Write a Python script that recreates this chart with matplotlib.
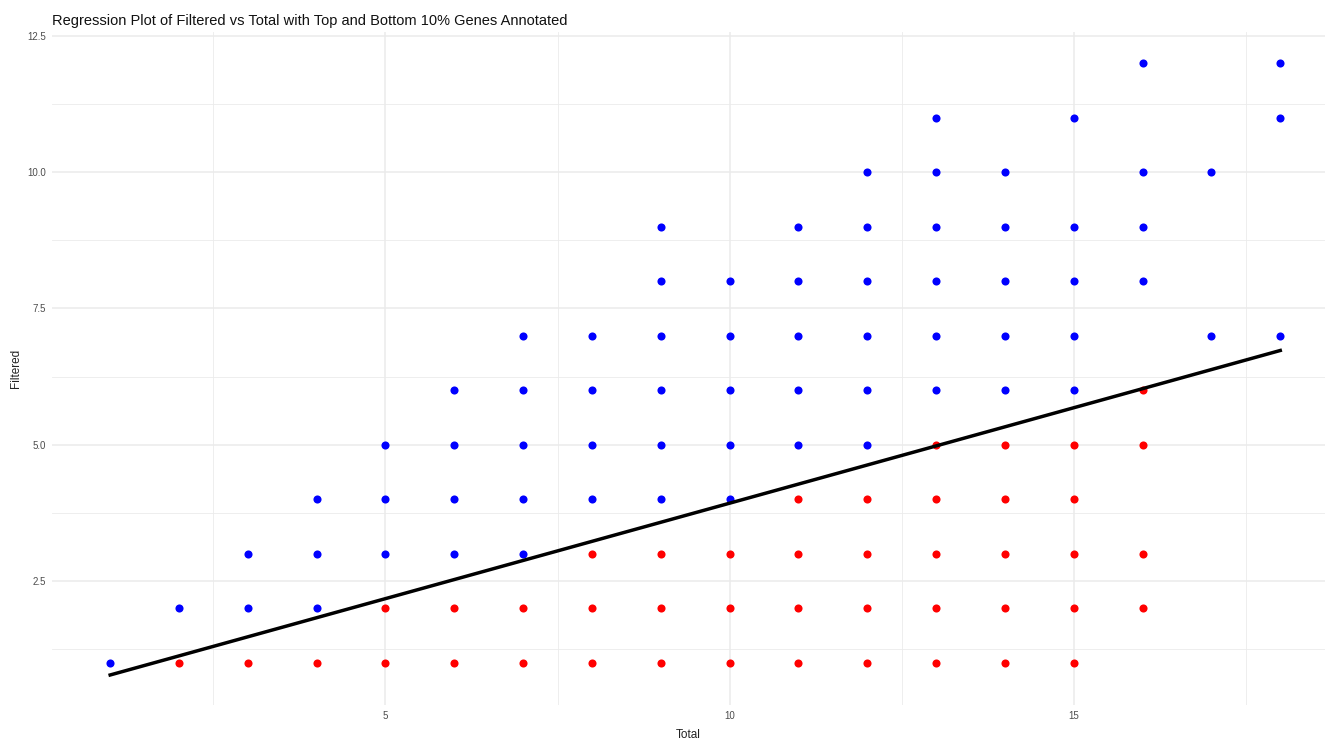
import matplotlib
matplotlib.use("Agg")
import matplotlib.pyplot as plt
import numpy as np

plt.rcParams['font.family'] = ['Liberation Sans', 'DejaVu Sans']

# gene counts: total vs filtered, split into the flagged groups
red_total = [2, 3, 4, 5, 5, 6, 6, 7, 7, 8, 8, 8,
             9, 9, 9, 10, 10, 10, 11, 11, 11, 11, 12, 12, 12, 12,
             13, 13, 13, 13, 13, 14, 14, 14, 14, 14, 15, 15, 15, 15, 15,
             16, 16, 16, 16]
red_filtered = [1, 1, 1, 1, 2, 1, 2, 1, 2, 1, 2, 3,
                1, 2, 3, 1, 2, 3, 1, 2, 3, 4, 1, 2, 3, 4,
                1, 2, 3, 4, 5, 1, 2, 3, 4, 5, 1, 2, 3, 4, 5,
                2, 3, 5, 6]

blue_total = [1, 2, 3, 3, 4, 4, 4, 5, 5, 5, 6, 6, 6, 6,
              7, 7, 7, 7, 7, 8, 8, 8, 8,
              9, 9, 9, 9, 9, 9, 10, 10, 10, 10, 10,
              11, 11, 11, 11, 11, 12, 12, 12, 12, 12, 12,
              13, 13, 13, 13, 13, 13, 14, 14, 14, 14, 14,
              15, 15, 15, 15, 15, 16, 16, 16, 16, 17, 17, 18, 18, 18]
blue_filtered = [1, 2, 2, 3, 2, 3, 4, 3, 4, 5, 3, 4, 5, 6,
                 3, 4, 5, 6, 7, 4, 5, 6, 7,
                 4, 5, 6, 7, 8, 9, 4, 5, 6, 7, 8,
                 5, 6, 7, 8, 9, 5, 6, 7, 8, 9, 10,
                 6, 7, 8, 9, 10, 11, 6, 7, 8, 9, 10,
                 6, 7, 8, 9, 11, 8, 9, 10, 12, 7, 10, 7, 11, 12]

# linear fit Filtered ~ Total
fit_intercept = 0.43
fit_slope = 0.35

fig = plt.figure(figsize=(13.25, 7.42), dpi=100)
ax = fig.add_axes([0.039, 0.0499, 0.961, 0.907])

ax.set_xlim(0.15, 18.65)
ax.set_ylim(0.23, 12.57)

grid_col = '#ebebeb'
ax.set_xticks([5, 10, 15])
ax.set_xticks([2.5, 7.5, 12.5, 17.5], minor=True)
ax.set_yticks([2.5, 5.0, 7.5, 10.0, 12.5])
ax.set_yticks([1.25, 3.75, 6.25, 8.75, 11.25], minor=True)
ax.set_yticklabels(['2.5', '5.0', '7.5', '10.0', '12.5'])
ax.grid(which='major', color=grid_col, linewidth=1.1)
ax.grid(which='minor', color=grid_col, linewidth=0.6)
ax.set_axisbelow(True)
ax.tick_params(which='both', length=0, labelsize=7, labelcolor='#4d4d4d', pad=4)
for s in ax.spines.values():
    s.set_visible(False)

ax.scatter(red_total, red_filtered, s=34, color='#ff0000', linewidths=0, zorder=3)
ax.scatter(blue_total, blue_filtered, s=34, color='#0000ff', linewidths=0, zorder=3)

xs = np.array([min(blue_total + red_total), max(blue_total + red_total)])
ax.plot(xs, fit_intercept + fit_slope * xs, color='black', linewidth=2.5, zorder=4)

ax.set_xlabel('Total', fontsize=8.5, color='#222222', labelpad=6)
ax.set_ylabel('Filtered', fontsize=8.5, color='#222222', labelpad=4)
ax.set_title('Regression Plot of Filtered vs Total with Top and Bottom 10% Genes Annotated',
             loc='left', fontsize=10.5, color='#111111', pad=5, x=0.0)

fig.savefig('out.png', dpi=100, facecolor='white')
